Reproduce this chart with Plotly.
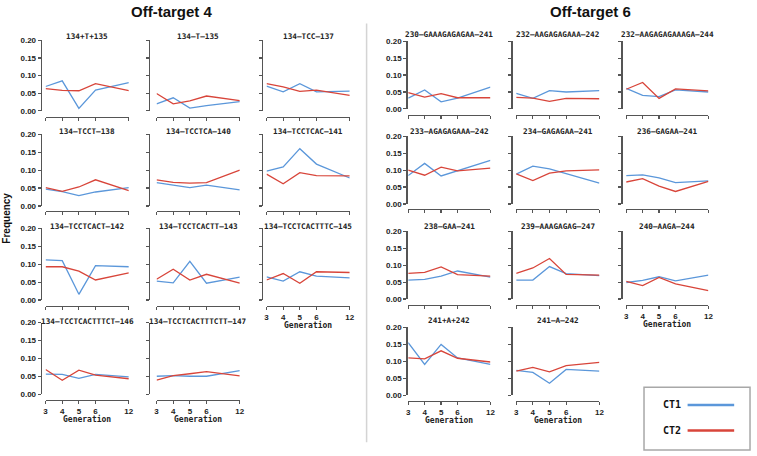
import plotly.graph_objects as go

# ---------------- data ----------------
gen_labels = ["3", "4", "5", "6", "12"]
gen_pos = [0, 1, 2, 3, 5]          # slot of each generation on the x axis

titles_left = ["134+T+135", "134\u2013T\u2013135", "134\u2013TCC\u2013137",
               "134\u2013TCCT\u2013138", "134\u2013TCCTCA\u2013140", "134\u2013TCCTCAC\u2013141",
               "134\u2013TCCTCACT\u2013142", "134\u2013TCCTCACTT\u2013143", "134\u2013TCCTCACTTTC\u2013145",
               "134\u2013TCCTCACTTTCT\u2013146", "134\u2013TCCTCACTTTCTT\u2013147"]
ct1_left = [
    [0.069, 0.085, 0.007, 0.059, 0.080],
    [0.020, 0.037, 0.008, 0.015, 0.026],
    [0.070, 0.054, 0.077, 0.054, 0.056],
    [0.047, 0.040, 0.029, 0.039, 0.051],
    [0.065, 0.058, 0.051, 0.058, 0.045],
    [0.097, 0.109, 0.160, 0.117, 0.078],
    [0.112, 0.110, 0.016, 0.096, 0.093],
    [0.053, 0.048, 0.108, 0.047, 0.064],
    [0.065, 0.053, 0.079, 0.067, 0.062],
    [0.056, 0.055, 0.044, 0.055, 0.048],
    [0.050, 0.052, 0.050, 0.050, 0.066],
]
ct2_left = [
    [0.063, 0.058, 0.057, 0.077, 0.057],
    [0.049, 0.020, 0.028, 0.042, 0.029],
    [0.077, 0.068, 0.055, 0.059, 0.044],
    [0.051, 0.041, 0.053, 0.073, 0.043],
    [0.073, 0.066, 0.064, 0.065, 0.100],
    [0.089, 0.062, 0.093, 0.085, 0.084],
    [0.093, 0.093, 0.081, 0.056, 0.076],
    [0.058, 0.086, 0.056, 0.072, 0.047],
    [0.056, 0.074, 0.047, 0.079, 0.077],
    [0.069, 0.039, 0.067, 0.053, 0.043],
    [0.039, 0.052, 0.057, 0.063, 0.051],
]

titles_right = ["230\u2013GAAAGAGAGAA\u2013241", "232\u2013AAGAGAGAAA\u2013242", "232\u2013AAGAGAGAAAGA\u2013244",
                "233\u2013AGAGAGAAA\u2013242", "234\u2013GAGAGAA\u2013241", "236\u2013GAGAA\u2013241",
                "238\u2013GAA\u2013241", "239\u2013AAAGAGAG\u2013247", "240\u2013AAGA\u2013244",
                "241+A+242", "241\u2013A\u2013242"]
ct1_right = [
    [0.032, 0.056, 0.021, 0.032, 0.064],
    [0.046, 0.031, 0.054, 0.050, 0.054],
    [0.061, 0.040, 0.036, 0.056, 0.050],
    [0.084, 0.120, 0.083, 0.099, 0.129],
    [0.088, 0.112, 0.104, 0.090, 0.062],
    [0.084, 0.086, 0.077, 0.063, 0.068],
    [0.056, 0.058, 0.068, 0.083, 0.065],
    [0.056, 0.056, 0.096, 0.075, 0.069],
    [0.049, 0.055, 0.066, 0.054, 0.071],
    [0.155, 0.091, 0.150, 0.110, 0.091],
    [0.073, 0.067, 0.035, 0.076, 0.071],
]
ct2_right = [
    [0.048, 0.035, 0.045, 0.033, 0.033],
    [0.034, 0.032, 0.022, 0.031, 0.030],
    [0.058, 0.078, 0.031, 0.059, 0.053],
    [0.100, 0.085, 0.109, 0.098, 0.106],
    [0.089, 0.069, 0.091, 0.098, 0.101],
    [0.065, 0.075, 0.053, 0.037, 0.067],
    [0.076, 0.079, 0.095, 0.072, 0.068],
    [0.076, 0.092, 0.120, 0.073, 0.071],
    [0.052, 0.040, 0.064, 0.045, 0.025],
    [0.110, 0.107, 0.131, 0.109, 0.098],
    [0.071, 0.082, 0.069, 0.087, 0.097],
]

series_names = ["CT1", "CT2"]
y_ticks = [0.0, 0.05, 0.10, 0.15, 0.20]

# ---------------- styling / geometry (pixels) ----------------
W, H = 757, 456
BLUE = "#5b97da"
RED = "#d8453a"
AXC = "#555555"
MONO = "DejaVu Sans Mono"
SANS = "Liberation Sans, Arial, sans-serif"

groups = [
    dict(titles=titles_left, ct1=ct1_left, ct2=ct2_left,
         yax_x=[39, 148, 262], x0=[44, 156, 267], x1=[128, 240, 351],
         y20=[37, 133, 229, 325], y00=[109, 206, 302, 398], xax_y=[115, 211, 308, 404],
         title_y=[33, 130, 227, 324]),
    dict(titles=titles_right, ct1=ct1_right, ct2=ct2_right,
         yax_x=[408, 514, 625], x0=[410, 519, 630], x1=[493, 603, 713],
         y20=[38, 135, 232, 330], y00=[107, 204, 301, 399], xax_y=[113, 209, 307, 405],
         title_y=[31, 130, 227, 323]),
]


def fx(p):
    return p / W


def fy(p):
    return 1 - p / H


fig = go.Figure()
layout = {}
annotations = []
shapes = []
n = 0
for g in groups:
    npan = len(g["titles"])
    for i in range(npan):
        n += 1
        r, c = divmod(i, 3)
        xa = "xaxis" if n == 1 else f"xaxis{n}"
        ya = "yaxis" if n == 1 else f"yaxis{n}"
        xr = "x" if n == 1 else f"x{n}"
        yr = "y" if n == 1 else f"y{n}"
        show_x = (i + 3) >= npan
        layout[xa] = dict(
            domain=[fx(g["x0"][c]), fx(g["x1"][c])], range=[gen_pos[0], gen_pos[-1]],
            anchor="free", position=fy(g["xax_y"][r]),
            tickmode="array", tickvals=gen_pos, ticktext=gen_labels,
            showticklabels=show_x, ticks="outside", ticklen=3, tickwidth=1.2,
            tickcolor=AXC, showline=True, linecolor=AXC, linewidth=1.3,
            showgrid=False, zeroline=False, fixedrange=True,
            tickfont=dict(family=SANS, size=8, color="#222", weight="bold"))
        layout[ya] = dict(
            domain=[fy(g["y00"][r]), fy(g["y20"][r])], range=[0, 0.2],
            anchor="free", position=fx(g["yax_x"][c]),
            tickmode="array", tickvals=y_ticks, tickformat=".2f",
            showticklabels=(c == 0), ticks="outside", ticklen=3, tickwidth=1.2,
            tickcolor=AXC, showline=True, linecolor=AXC, linewidth=1.3,
            showgrid=False, zeroline=False, fixedrange=True,
            tickfont=dict(family=SANS, size=8, color="#222", weight="bold"))
        for name, vals, col in [(series_names[0], g["ct1"][i], BLUE),
                                (series_names[1], g["ct2"][i], RED)]:
            fig.add_trace(go.Scatter(x=gen_pos, y=vals, mode="lines", name=name,
                                     line=dict(color=col, width=1.3),
                                     xaxis=xr, yaxis=yr, showlegend=False))
        annotations.append(dict(
            text=g["titles"][i], x=fx((g["x0"][c] + g["x1"][c]) / 2), y=fy(g["title_y"][r]),
            xref="paper", yref="paper", xanchor="center", yanchor="middle", showarrow=False,
            font=dict(family=MONO, size=7.7, color="#222", weight="bold")))
        if show_x:
            annotations.append(dict(
                text="Generation", x=fx((g["x0"][c] + g["x1"][c]) / 2), y=fy(g["xax_y"][r] + 19),
                xref="paper", yref="paper", xanchor="center", yanchor="middle", showarrow=False,
                font=dict(family=MONO, size=8, color="#222", weight="bold")))

# group titles
annotations.append(dict(text="Off-target 4", x=fx(171), y=fy(8), xref="paper", yref="paper",
                        showarrow=False, xanchor="center", yanchor="middle",
                        font=dict(family=SANS, size=15, color="#111", weight="bold")))
annotations.append(dict(text="Off-target 6", x=fx(594), y=fy(8), xref="paper", yref="paper",
                        showarrow=False, xanchor="center", yanchor="middle",
                        font=dict(family=SANS, size=15, color="#111", weight="bold")))
# y label
annotations.append(dict(text="Frequency", x=fx(5), y=fy(218), xref="paper", yref="paper",
                        showarrow=False, textangle=-90, xanchor="center", yanchor="middle",
                        font=dict(family=SANS, size=10, color="#111", weight="bold")))

# divider
shapes.append(dict(type="line", xref="paper", yref="paper", x0=fx(368), x1=fx(368),
                   y0=fy(20), y1=fy(447), line=dict(color="#d4d4d4", width=1.5)))

# legend box
shapes.append(dict(type="rect", xref="paper", yref="paper", x0=fx(648), x1=fx(755),
                   y0=fy(455), y1=fy(391), line=dict(color="#a8a8a8", width=1.5),
                   fillcolor="white"))
for k, (name, col) in enumerate([(series_names[0], BLUE), (series_names[1], RED)]):
    yy = 409 + 26 * k
    shapes.append(dict(type="line", xref="paper", yref="paper", x0=fx(692), x1=fx(739),
                       y0=fy(yy), y1=fy(yy), line=dict(color=col, width=2.5)))
    annotations.append(dict(text=name, x=fx(687), y=fy(yy), xref="paper", yref="paper",
                            showarrow=False, xanchor="right", yanchor="middle",
                            font=dict(family=MONO, size=10, color="#111", weight="bold")))

fig.update_layout(width=W, height=H, margin=dict(l=0, r=0, t=0, b=0),
                  paper_bgcolor="white", plot_bgcolor="rgba(0,0,0,0)",
                  showlegend=False, annotations=annotations, shapes=shapes, **layout)

fig.write_html("out.html", config={"displayModeBar": False, "staticPlot": True},
               post_script="document.body.style.margin='0px';document.body.style.overflow='hidden';")
